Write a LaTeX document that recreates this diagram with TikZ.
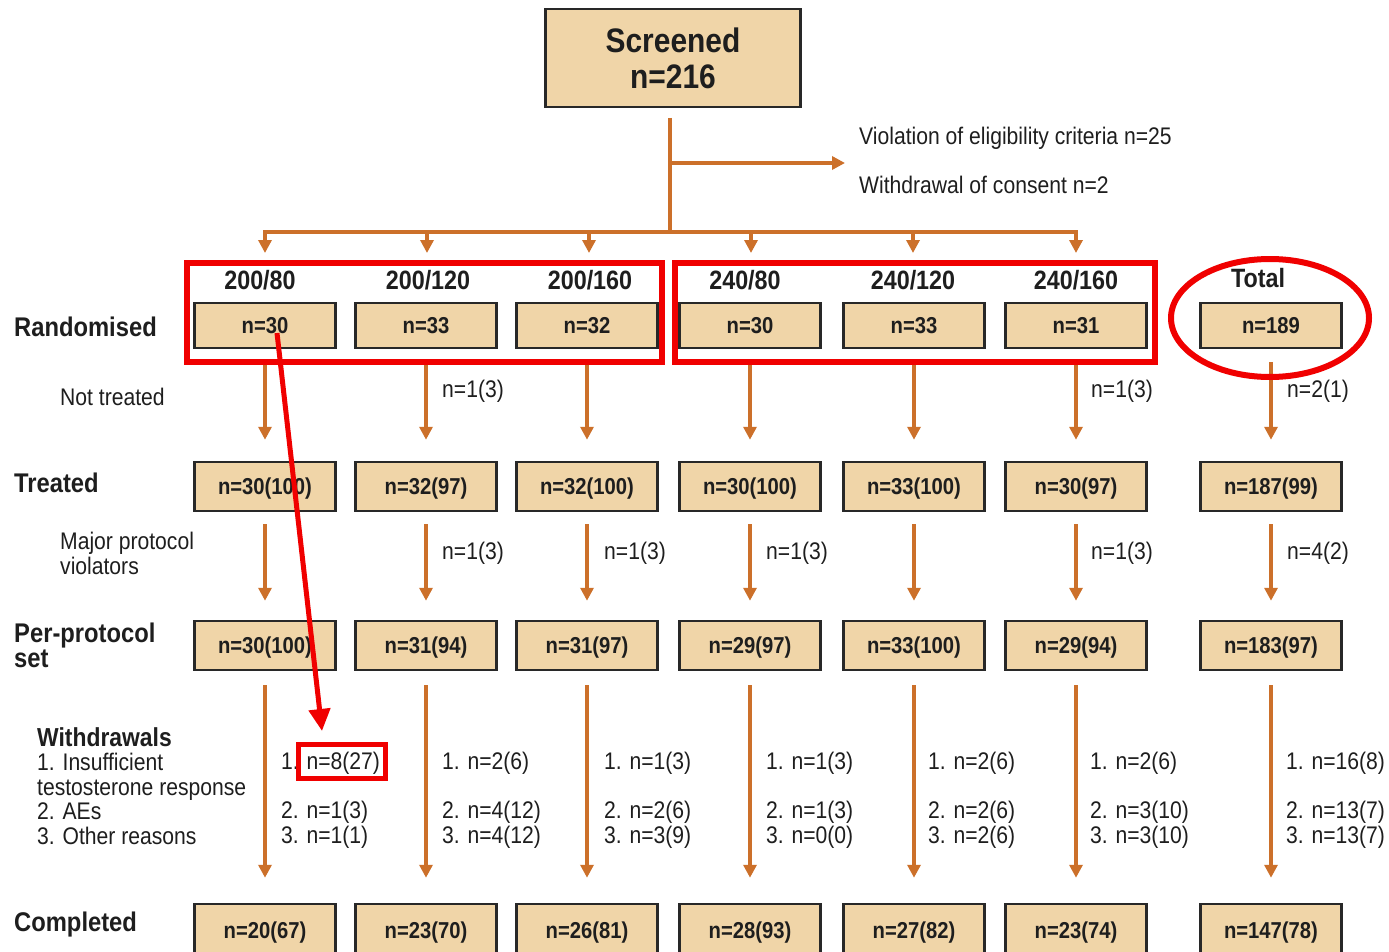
\documentclass[tikz,border=0pt]{standalone}
\usepackage{fontspec}
\setmainfont[FakeStretch=0.88]{Liberation Sans}
\usetikzlibrary{arrows.meta,shapes.geometric}
\definecolor{boxfill}{RGB}{240,213,168}
\definecolor{boxline}{RGB}{40,40,40}
\definecolor{arrorange}{RGB}{204,112,42}
\definecolor{hlred}{RGB}{240,0,0}
\definecolor{txt}{RGB}{30,30,30}
\begin{document}
\begin{tikzpicture}[x=1pt,y=-1pt,
  boxbase/.style={draw=boxline, line width=2.5pt, fill=boxfill, inner sep=0pt, text=txt},
  nbox/.style={boxbase, minimum width=141pt, minimum height=47pt, text height=16.5pt, text depth=0pt, font=\fontsize{23}{27}\selectfont\bfseries},
  orline/.style={draw=arrorange, line width=4pt},
  flow/.style={orline, -{Triangle[width=13pt,length=13pt]}},
  lbl/.style={anchor=west, inner sep=0pt, text=txt, text height=17.3pt, text depth=0pt, font=\fontsize{24}{28}\selectfont},
  rowlbl/.style={anchor=west, inner sep=0pt, text=txt, text height=19.4pt, text depth=0pt, font=\fontsize{27}{31}\selectfont\bfseries},
  hdr/.style={inner sep=0pt, text=txt, text height=19pt, text depth=0pt, font=\fontsize{26.5}{30}\selectfont\bfseries},
  redline/.style={draw=hlred, line width=6pt},
  redframe/.style={redline, rectangle, inner sep=0pt},
  redarrow/.style={draw=hlred, line width=5pt, -{Triangle[width=21pt,length=22pt]}}
]
\useasboundingbox (0,0) rectangle (1389,952);
\path[fill=white] (0,0) rectangle (1389,952);

% screened
\node[boxbase, minimum width=255pt, minimum height=98pt, align=center,
      font=\fontsize{34}{36}\selectfont\bfseries] (scr) at (673,58) {Screened\\n=216};
\coordinate (s0) at (670,118);
\coordinate (s1) at (670,232);
\coordinate (sb) at (670,163);
\coordinate (ex) at (845,163);
\coordinate (hL) at (265,232);
\coordinate (hR) at (1076,232);
\draw[orline] (s0) -- (s1);
\draw[flow] (sb) -- (ex);
\draw[orline, line cap=rect] (hL) -- (hR);
\node[lbl] (viol) at (859,136) {Violation of eligibility criteria n=25};
\node[lbl] (wcons) at (859,185) {Withdrawal of consent n=2};

% column branches
\foreach \i/\x in {1/265,2/427,3/589,4/751,5/913,6/1076}{
  \coordinate (h\i) at (\x,232);
  \coordinate (he\i) at (\x,253);
  \draw[flow] (h\i) -- (he\i);
}

% headers
\node[hdr] (g1) at (260,280) {200/80};
\node[hdr] (g2) at (428,280) {200/120};
\node[hdr] (g3) at (590,280) {200/160};
\node[hdr] (g4) at (745,280) {240/80};
\node[hdr] (g5) at (913,280) {240/120};
\node[hdr] (g6) at (1076,280) {240/160};
\node[hdr] (g7) at (1258,278) {Total};

% boxes
\foreach \i/\x/\r/\t/\p/\c in {
  1/265/n=30/n=30(100)/n=30(100)/n=20(67),
  2/426/n=33/n=32(97)/n=31(94)/n=23(70),
  3/587/n=32/n=32(100)/n=31(97)/n=26(81),
  4/750/n=30/n=30(100)/n=29(97)/n=28(93),
  5/914/n=33/n=33(100)/n=33(100)/n=27(82),
  6/1076/n=31/n=30(97)/n=29(94)/n=23(74),
  7/1271/n=189/n=187(99)/n=183(97)/n=147(78)}{
  \node[nbox, minimum height=45pt] (r\i) at (\x,325.5) {\r};
  \node[nbox, minimum height=49pt] (t\i) at (\x,486.5) {\t};
  \node[nbox, minimum height=49pt] (p\i) at (\x,645.5) {\p};
  \node[nbox, minimum height=52pt] (c\i) at (\x,930) {\c};
  \draw[flow, shorten <=13pt, shorten >=21pt] (r\i) -- (t\i);
  \draw[flow, shorten <=12pt, shorten >=19pt] (t\i) -- (p\i);
  \draw[flow, shorten <=14pt, shorten >=25pt] (p\i) -- (c\i);
}

% row labels
\node[rowlbl] (lrand) at (14,327) {Randomised};
\node[lbl] (lnot) at (60,397) {Not treated};
\node[rowlbl] (ltreat) at (14,483) {Treated};
\node[lbl] (lmaj1) at (60,541) {Major protocol};
\node[lbl] (lmaj2) at (60,566) {violators};
\node[rowlbl] (lpp1) at (14,633) {Per-protocol};
\node[rowlbl] (lpp2) at (14,658) {set};
\node[rowlbl, font=\fontsize{26}{30}\selectfont\bfseries] (lwd) at (37,737) {Withdrawals};
\node[lbl] (lw1) at (37,762) {1. Insufficient};
\node[lbl] (lw1b) at (37,787) {testosterone response};
\node[lbl] (lw2) at (37,811) {2. AEs};
\node[lbl] (lw3) at (37,836) {3. Other reasons};
\node[rowlbl] (lcomp) at (14,922) {Completed};

% not treated counts
\node[lbl] (nt2) at (442,389) {n=1(3)};
\node[lbl] (nt6) at (1091,389) {n=1(3)};
\node[lbl] (nt7) at (1287,389) {n=2(1)};

% protocol violators counts
\node[lbl] (pv2) at (442,551) {n=1(3)};
\node[lbl] (pv3) at (604,551) {n=1(3)};
\node[lbl] (pv4) at (766,551) {n=1(3)};
\node[lbl] (pv6) at (1091,551) {n=1(3)};
\node[lbl] (pv7) at (1287,551) {n=4(2)};

% withdrawals counts
\foreach \i/\x/\a/\b/\c in {
  1/281/n=8(27)/n=1(3)/n=1(1),
  2/442/n=2(6)/n=4(12)/n=4(12),
  3/604/n=1(3)/n=2(6)/n=3(9),
  4/766/n=1(3)/n=1(3)/n=0(0),
  5/928/n=2(6)/n=2(6)/n=2(6),
  6/1090/n=2(6)/n=3(10)/n=3(10),
  7/1286/n=16(8)/n=13(7)/n=13(7)}{
  \node[lbl] (wa\i) at (\x,761) {1. \a};
  \node[lbl] (wb\i) at (\x,810) {2. \b};
  \node[lbl] (wc\i) at (\x,835) {3. \c};
}

% red highlights
\node[redframe, minimum width=475pt, minimum height=99pt] (grpA) at (424.5,312.5) {};
\node[redframe, minimum width=480pt, minimum height=99pt] (grpB) at (915,312.5) {};
\node[redline, ellipse, inner sep=0pt, minimum width=198pt, minimum height=118pt] (tring) at (1270,318) {};
\node[redline, rectangle, line width=5pt, inner sep=0pt, minimum width=87pt, minimum height=34pt] (hlbox) at (342,761.5) {};
\coordinate (rs) at (277,333);
\coordinate (re) at (322,731);
\draw[redarrow] (rs) -- (re);
\end{tikzpicture}
\end{document}
